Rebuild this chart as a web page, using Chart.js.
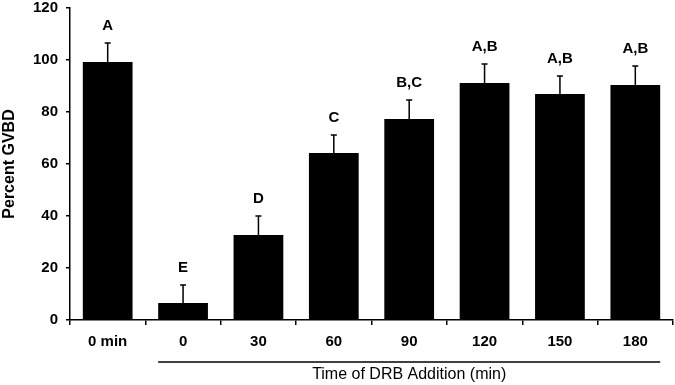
<!DOCTYPE html>
<html>
<head>
<meta charset="utf-8">
<script src="https://cdn.jsdelivr.net/npm/chart.js@4"></script>
<style>
  html, body { margin: 0; padding: 0; background: #fff; overflow: hidden; }
  #wrap { width: 675px; height: 385px; position: relative; }
</style>
</head>
<body>
<div id="wrap"><canvas id="chart"></canvas></div>
<script>
const categories = ["0 min", "0", "30", "60", "90", "120", "150", "180"];
const percentGVBD = [99.2, 6.5, 32.7, 64.2, 77.3, 91.2, 86.9, 90.4];
const errorSize = [7.3, 7.0, 7.3, 7.0, 7.3, 7.3, 6.9, 7.3];
const letters = ["A", "E", "D", "C", "B,C", "A,B", "A,B", "A,B"];
const yTicks = [0, 20, 40, 60, 80, 100, 120];

// error bars (upper only) and significance letters
const annotate = {
  id: "annotate",
  afterDatasetsDraw(chart) {
    const { ctx, scales } = chart;
    const meta = chart.getDatasetMeta(0);
    ctx.save();
    ctx.strokeStyle = "#000";
    ctx.lineWidth = 1.5;
    ctx.fillStyle = "#000";
    ctx.font = "bold 15px 'Liberation Sans', Arial, sans-serif";
    ctx.textAlign = "center";
    ctx.textBaseline = "middle";
    meta.data.forEach((bar, i) => {
      const top = scales.y.getPixelForValue(percentGVBD[i]);
      const errTop = scales.y.getPixelForValue(percentGVBD[i] + errorSize[i]);
      ctx.beginPath();
      ctx.moveTo(bar.x, top);
      ctx.lineTo(bar.x, errTop);
      ctx.moveTo(bar.x - 3, errTop);
      ctx.lineTo(bar.x + 3, errTop);
      ctx.stroke();
      ctx.fillText(letters[i], bar.x, errTop - 17);
    });

    // bracket line and title under the DRB time points
    const first = meta.data[1], last = meta.data[meta.data.length - 1];
    const x0 = first.x - first.width / 2;
    const x1 = last.x + last.width / 2;
    const ly = scales.y.bottom + 42;
    ctx.lineWidth = 1.5;
    ctx.beginPath();
    ctx.moveTo(x0, ly);
    ctx.lineTo(x1, ly);
    ctx.stroke();
    ctx.font = "16px 'Liberation Sans', Arial, sans-serif";
    ctx.fillText("Time of DRB Addition (min)", (x0 + x1) / 2, ly + 13);
    ctx.restore();
  }
};

new Chart(document.getElementById("chart"), {
  type: "bar",
  data: {
    labels: categories,
    datasets: [{
      data: percentGVBD,
      backgroundColor: "#000",
      borderWidth: 0,
      barPercentage: 0.66,
      categoryPercentage: 1.0
    }]
  },
  options: {
    responsive: true,
    maintainAspectRatio: false,
    animation: false,
    layout: { padding: { top: 8, right: 2, left: 0, bottom: 0 } },
    plugins: { legend: { display: false }, tooltip: { enabled: false } },
    scales: {
      x: {
        grid: { display: true, drawOnChartArea: false, offset: true, tickLength: 5, color: "#000", lineWidth: 1.5 },
        border: { color: "#000", width: 1.5 },
        ticks: {
          color: "#000",
          padding: 8,
          font: { family: "'Liberation Sans', Arial, sans-serif", size: 15, weight: "bold" }
        },
        afterFit(scale) {
          scale.height = 65;
          scale.paddingLeft = 0;
          scale.paddingRight = 0;
        }
      },
      y: {
        min: 0,
        max: 120,
        afterBuildTicks(scale) { scale.ticks = yTicks.map(v => ({ value: v })); },
        grid: { display: true, drawOnChartArea: false, tickLength: 4, color: "#000", lineWidth: 1.5 },
        border: { color: "#000", width: 1.5 },
        ticks: {
          color: "#000",
          padding: 8,
          font: { family: "'Liberation Sans', Arial, sans-serif", size: 15, weight: "bold" }
        },
        title: {
          display: true,
          text: "Percent GVBD",
          color: "#000",
          padding: 0,
          font: { family: "'Liberation Sans', Arial, sans-serif", size: 16, weight: "bold" }
        },
        afterFit(scale) {
          scale.width = 70;
          scale.paddingTop = 0;
          scale.paddingBottom = 0;
        }
      }
    }
  },
  plugins: [annotate]
});
</script>
</body>
</html>
